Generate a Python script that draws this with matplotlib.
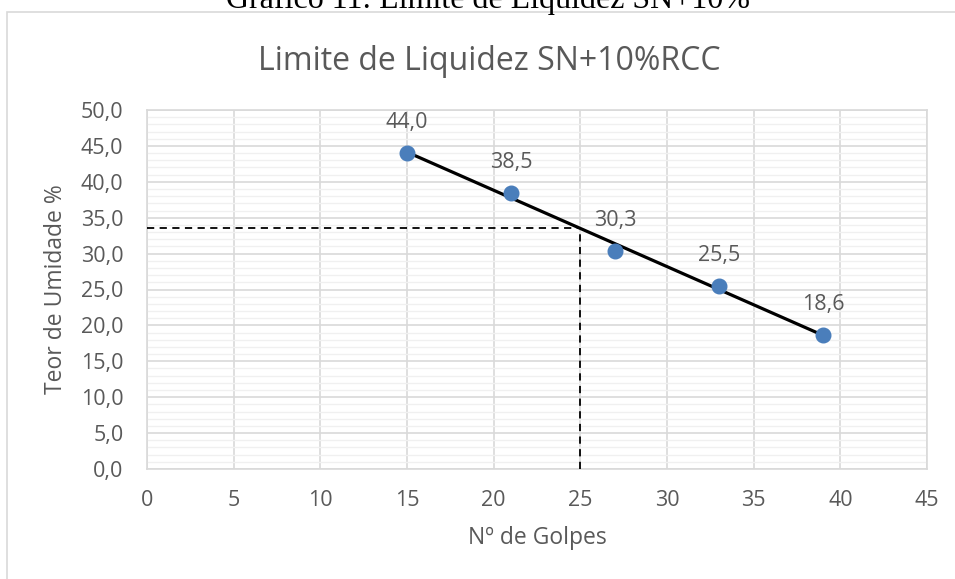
import numpy as np
import matplotlib
matplotlib.use('Agg')
import matplotlib.pyplot as plt
from matplotlib.patches import Rectangle
from matplotlib.ticker import MultipleLocator, FuncFormatter

# ensaio de limite de liquidez
golpes = [15, 21, 27, 33, 39]
umidade = [44.0, 38.5, 30.3, 25.5, 18.6]
golpes_ref = 25

plt.rcParams['font.family'] = ['Open Sans', 'DejaVu Sans']
cinza = '#595959'

fig = plt.figure(figsize=(9.55, 5.79), dpi=100)
W, H = 955, 579
ax = fig.add_axes([147 / W, 1 - 469 / H, 780 / W, 359 / H])

# moldura do grafico
fig.patches.append(Rectangle((7 / W, -0.1), 1.2, 1 - 11.5 / H + 0.1,
                             transform=fig.transFigure, fill=False,
                             edgecolor='#D9D9D9', linewidth=1.2))
fig.text(488 / W, 1 - 8 / H, 'Gráfico 11: Limite de Liquidez SN+10%',
         family='Liberation Serif', fontsize=23, ha='center', va='baseline',
         color='black')
# titulo centrado na moldura
fig.text(489 / W, 1 - 70 / H, 'Limite de Liquidez SN+10%RCC', fontsize=23,
         color=cinza, ha='center', va='baseline')

# reta de tendencia
a, b = np.polyfit(golpes, umidade, 1)
xs = np.array([min(golpes), max(golpes)])
ax.plot(xs, a * xs + b, color='black', linewidth=2.3, zorder=4)
ll = a * golpes_ref + b
ax.plot([0, golpes_ref], [ll, ll], color='black', linestyle=(0, (4, 3)),
        linewidth=1.3, zorder=3)
ax.plot([golpes_ref, golpes_ref], [0, ll], color='black', linestyle=(0, (4, 3)),
        linewidth=1.3, zorder=3)

ax.plot(golpes, umidade, 'o', color='#4A7EBB', markersize=10.5, zorder=5)
for x, y in zip(golpes, umidade):
    ax.annotate(f'{y:.1f}'.replace('.', ','), (x, y), xytext=(0, 22),
                textcoords='offset points', ha='center', va='center',
                fontsize=15.5, color=cinza)

ax.set_xlim(0, 45)
ax.set_ylim(0, 50)
ax.xaxis.set_major_locator(MultipleLocator(5))
ax.yaxis.set_major_locator(MultipleLocator(5))
ax.yaxis.set_minor_locator(MultipleLocator(1))
ax.yaxis.set_major_formatter(FuncFormatter(lambda v, p: f'{v:.1f}'.replace('.', ',')))
ax.grid(which='major', color='#D9D9D9', linewidth=1.2)
ax.grid(which='minor', axis='y', color='#F0F0F0', linewidth=1.0)
ax.set_axisbelow(True)
for s in ax.spines.values():
    s.set_color('#D9D9D9')
    s.set_linewidth(1.2)
ax.tick_params(which='both', length=0, labelsize=15.5, labelcolor=cinza)
ax.tick_params(axis='x', pad=15)
ax.tick_params(axis='y', pad=17)

ax.set_xlabel('Nº de Golpes', fontsize=16.5, color=cinza, labelpad=11)
ax.set_ylabel('Teor de Umidade %', fontsize=16.5, color=cinza, labelpad=9)

fig.savefig('out.png', dpi=100)
